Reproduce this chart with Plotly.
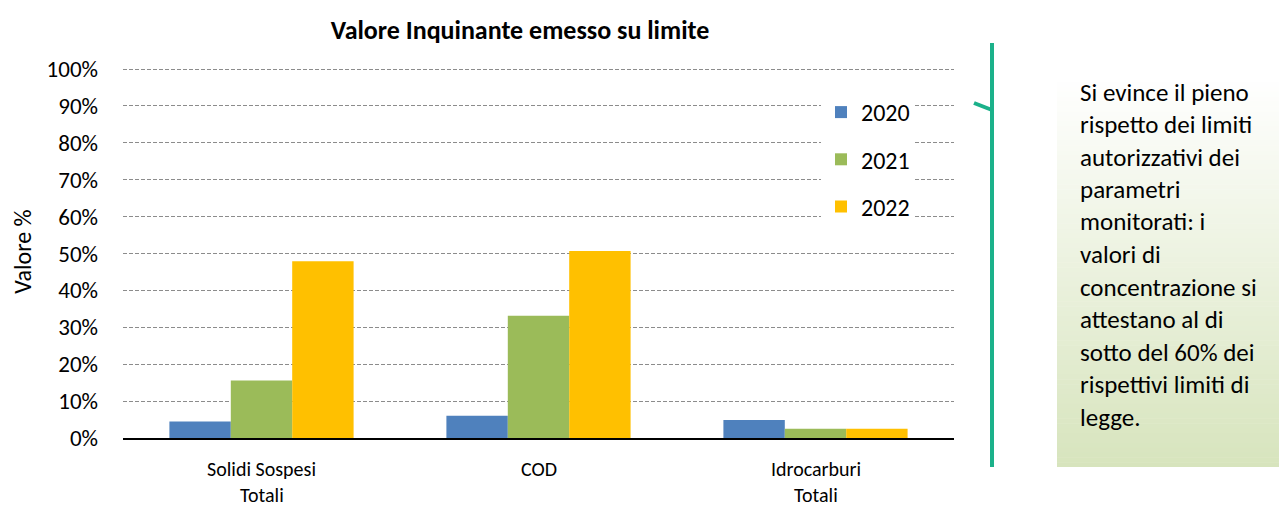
import plotly.graph_objects as go

categories = ["Solidi Sospesi<br>Totali", "COD", "Idrocarburi<br>Totali"]
years = ["2020", "2021", "2022"]
values_2020 = [0.045, 0.060, 0.049]
values_2021 = [0.156, 0.331, 0.025]
values_2022 = [0.479, 0.507, 0.025]
colors = ["#4F81BD", "#9BBB59", "#FFC000"]
y_ticks = [0, 0.1, 0.2, 0.3, 0.4, 0.5, 0.6, 0.7, 0.8, 0.9, 1.0]

note_lines = [
    "Si evince il pieno",
    "rispetto dei limiti",
    "autorizzativi dei",
    "parametri",
    "monitorati: i",
    "valori di",
    "concentrazione si",
    "attestano al di",
    "sotto del 60% dei",
    "rispettivi limiti di",
    "legge.",
]

# page body has an 8px margin: work in screen pixels, convert to figure coords
OFF = 8
W, H = 1287 - OFF, 508 - OFF
L, R = 123 - OFF, 954 - OFF
B = 438 - OFF
T100 = 69 - OFF
T = T100 - 4
YTOP = (B - T) / (B - T100)
FONT = "Carlito, Calibri, Lato, sans-serif"


def sx(x):
    return (x - OFF - L) / (R - L)


def sy(y):
    return (B - (y - OFF)) / (B - T)


fig = go.Figure()
for i, (yr, vals) in enumerate(zip(years, [values_2020, values_2021, values_2022])):
    fig.add_trace(go.Bar(
        x=categories, y=vals, name=yr, marker_color=colors[i],
        marker_line_width=0, legendgroup=yr,
    ))

shapes = []
# gradient note box
x0b, x1b, y0b, y1b = 1057, 1287, 77, 467
steps = 80
c_top = (255, 255, 255)
c_bot = (215, 228, 189)
for s in range(steps):
    t = (s + 0.5) / steps
    c = tuple(round(c_top[k] + (c_bot[k] - c_top[k]) * t) for k in range(3))
    ya = y0b + (y1b - y0b) * s / steps
    yb = min(y0b + (y1b - y0b) * (s + 1) / steps + 0.6, y1b)
    shapes.append(dict(type="rect", xref="paper", yref="paper",
                       x0=sx(x0b), x1=sx(x1b), y0=sy(ya), y1=sy(yb),
                       fillcolor="rgb(%d,%d,%d)" % c, line=dict(width=0), layer="below"))
# green bracket line
line_col = "#1BB18A"
shapes.append(dict(type="line", xref="paper", yref="paper",
                   x0=sx(992), x1=sx(992), y0=sy(43), y1=sy(467),
                   line=dict(color=line_col, width=4)))
shapes.append(dict(type="line", xref="paper", yref="paper",
                   x0=sx(974), x1=sx(992), y0=sy(103), y1=sy(110),
                   line=dict(color=line_col, width=4)))

annotations = []
for i, ln in enumerate(note_lines):
    annotations.append(dict(text=ln, xref="paper", yref="paper",
                            x=sx(1078), y=sy(92 + 32.5 * i), xanchor="left", yanchor="middle",
                            showarrow=False, font=dict(family=FONT, size=25, color="#000000")))

# category labels (one annotation per text line, anchored on the category axis)
for cat in categories:
    for j, part in enumerate(cat.split("<br>")):
        annotations.append(dict(text=part, xref="x", yref="paper", x=cat,
                                y=sy(469 + 25.5 * j), xanchor="center", yanchor="middle",
                                borderpad=0,
                                showarrow=False, font=dict(family=FONT, size=20, color="#000000")))

fig.update_layout(
    width=W, height=H,
    margin=dict(l=L, r=W - R, t=T, b=H - B, pad=0),
    paper_bgcolor="white", plot_bgcolor="white",
    barmode="group", bargap=0.335, bargroupgap=0,
    font=dict(family=FONT, size=22, color="#000000"),
    title=dict(text="<b>Valore Inquinante emesso su limite</b>", x=(520 - OFF) / W, xanchor="center",
               y=1 - (30 - OFF) / H, yanchor="middle", font=dict(family=FONT, size=26, color="#000000")),
    legend=dict(x=sx(821), y=sy(90), xanchor="left", yanchor="top", bgcolor="white",
                font=dict(family=FONT, size=24), traceorder="grouped", tracegroupgap=13,
                itemwidth=30),
    shapes=shapes, annotations=annotations,
    yaxis=dict(range=[0, YTOP], tickvals=y_ticks, tickformat=".0%", showgrid=True,
               gridcolor="#8C8C8C", griddash="4px,2px", gridwidth=1, zeroline=False,
               showline=False, ticks="", ticklabelstandoff=24, automargin=False,
               tickfont=dict(family=FONT, size=23),
               title=dict(text="Valore %", standoff=10, font=dict(family=FONT, size=24))),
    xaxis=dict(showline=True, linecolor="#000000", linewidth=1.5, ticks="",
               showticklabels=False, showgrid=False, automargin=False),
)

fig.write_html("out.html")
